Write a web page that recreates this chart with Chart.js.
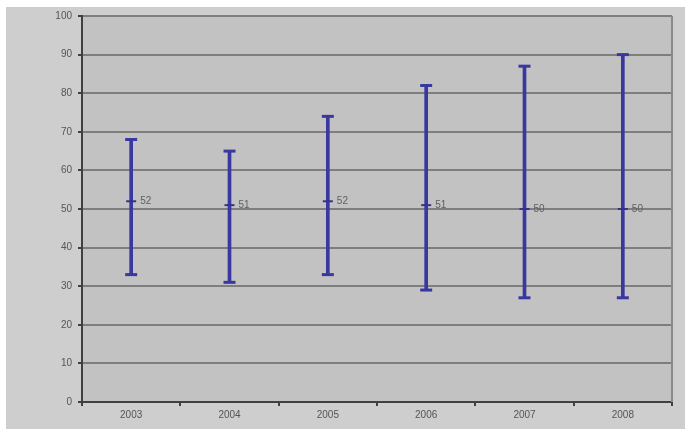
<!DOCTYPE html>
<html>
<head>
<meta charset="utf-8">
<script src="https://cdn.jsdelivr.net/npm/chart.js@4/dist/chart.umd.min.js"></script>
<style>
html,body{margin:0;padding:0;background:#fff;}
#wrap{position:relative;width:685px;height:429px;}
</style>
</head>
<body>
<div id="wrap"><canvas id="c" width="685" height="429"></canvas></div>
<script>
const years = ['2003','2004','2005','2006','2007','2008'];
const highs = [68, 65, 74, 82, 87, 90];
const lows  = [33, 31, 33, 29, 27, 27];
const means = [52, 51, 52, 51, 50, 50];
const yTicks = [0,10,20,30,40,50,60,70,80,90,100];

const barColor = '#3838a0';

const bgPlugin = {
  id: 'bg',
  beforeDraw(chart) {
    const ctx = chart.ctx, a = chart.chartArea;
    ctx.save();
    ctx.fillStyle = '#ffffff';
    ctx.fillRect(0, 0, chart.width, chart.height);
    ctx.fillStyle = '#cecece';
    ctx.fillRect(6, 7, chart.width - 6, chart.height - 7);
    ctx.fillStyle = '#c2c2c2';
    ctx.fillRect(a.left, a.top, a.right - a.left, a.bottom - a.top);
    ctx.restore();
  },
  afterDraw(chart) {
    const ctx = chart.ctx, a = chart.chartArea;
    ctx.save();
    ctx.strokeStyle = '#8a8a8a';
    ctx.lineWidth = 2;
    ctx.beginPath();
    ctx.moveTo(a.right, a.top);
    ctx.lineTo(a.right, a.bottom);
    ctx.stroke();
    // mean labels
    const meta = chart.getDatasetMeta(3);
    ctx.fillStyle = '#606060';
    ctx.font = '10px "Liberation Sans", Arial, sans-serif';
    ctx.textBaseline = 'middle';
    ctx.textAlign = 'left';
    meta.data.forEach((pt, i) => {
      ctx.fillText(String(means[i]), pt.x + 9, pt.y);
    });
    ctx.restore();
  }
};

new Chart(document.getElementById('c'), {
  type: 'bar',
  data: {
    labels: years,
    datasets: [
      {
        type: 'bar',
        data: years.map((y, i) => [lows[i], highs[i]]),
        backgroundColor: barColor,
        borderWidth: 0,
        barThickness: 3,
        grouped: false,
        order: 2
      },
      {
        type: 'line',
        data: highs,
        showLine: false,
        pointStyle: 'line',
        pointRadius: 6,
        pointBorderWidth: 3,
        borderColor: barColor,
        pointBorderColor: barColor,
        order: 1
      },
      {
        type: 'line',
        data: lows,
        showLine: false,
        pointStyle: 'line',
        pointRadius: 6,
        pointBorderWidth: 3,
        borderColor: barColor,
        pointBorderColor: barColor,
        order: 1
      },
      {
        type: 'line',
        data: means,
        showLine: false,
        pointStyle: 'line',
        pointRadius: 5,
        pointBorderWidth: 2,
        borderColor: '#34348a',
        pointBorderColor: '#34348a',
        order: 0
      }
    ]
  },
  options: {
    responsive: false,
    animation: false,
    layout: { padding: { top: 16, right: 13, left: 0, bottom: 0 } },
    plugins: { legend: { display: false }, tooltip: { enabled: false } },
    scales: {
      x: {
        offset: true,
        grid: { offset: true, drawOnChartArea: false, drawTicks: true, tickLength: 4, color: '#404040', lineWidth: 2 },
        border: { color: '#404040', width: 2 },
        ticks: { color: '#555555', font: { family: '"Liberation Sans", Arial, sans-serif', size: 10 }, padding: 3, maxRotation: 0 },
        afterFit(s) { s.height = 27; }
      },
      y: {
        min: 0, max: 100,
        afterBuildTicks(s) { s.ticks = yTicks.map(v => ({ value: v })); },
        grid: { color: '#7e7e7e', lineWidth: 2, tickLength: 4, tickColor: '#404040', drawTicks: true },
        border: { color: '#404040', width: 2 },
        ticks: { color: '#555555', font: { family: '"Liberation Sans", Arial, sans-serif', size: 10 }, padding: 6 },
        afterFit(s) { s.width = 82; }
      }
    }
  },
  plugins: [bgPlugin]
});
</script>
</body>
</html>
